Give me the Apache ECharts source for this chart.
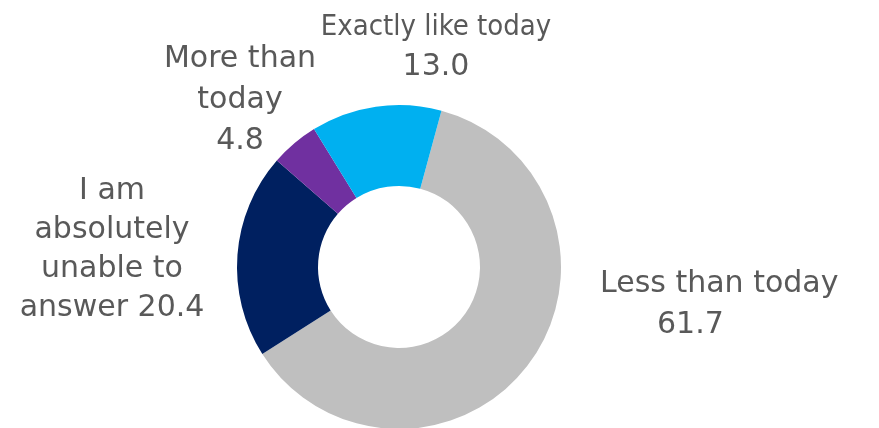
<!DOCTYPE html>
<html>
<head>
    <meta charset="utf-8">
    <title>Doughnut</title>
    <script src="https://cdn.jsdelivr.net/npm/echarts@6/dist/echarts.min.js"></script>
    <style>
        html, body { margin: 0; padding: 0; background: #fff; }
        #main { width: 879px; height: 428px; }
    </style>
</head>
<body>
    <div id="main"></div>
    <script type="text/javascript">
        // data
        var categories = ['Less than today', 'I am absolutely unable to answer', 'More than today', 'Exactly like today'];
        var values = [61.7, 20.4, 4.8, 13.0];
        var colors = ['#BFBFBF', '#002060', '#7030A0', '#00B0F0'];
        // how each label is broken into lines (value is appended)
        var labelText = ['Less than today', 'I am\nabsolutely\nunable to\nanswer', 'More than\ntoday', 'Exactly like today'];
        var labelSep = ['\n', ' ', '\n', '\n'];

        // label anchor points (text block centres)
        var labelPos = [[600, 305], [112, 250], [240, 100], [436, 47]];
        var labelAlign = ['left', 'center', 'center', 'center'];
        var labelLH = [41, 39, 41, 40];

        var myChart = echarts.init(document.getElementById('main'));

        var seriesData = [];
        for (var i = 0; i < categories.length; i++) {
            seriesData.push({
                name: categories[i],
                value: values[i],
                itemStyle: { color: colors[i] },
                label: { lineHeight: labelLH[i] }
            });
        }

        myChart.setOption({
            animation: false,
            series: [{
                type: 'pie',
                center: [399, 267],
                radius: [81, 162],
                startAngle: 74.8,
                clockwise: true,
                avoidLabelOverlap: false,
                label: {
                    show: true,
                    position: 'outside',
                    color: '#595959',
                    fontFamily: 'DejaVu Sans',
                    fontSize: 30,
                    formatter: function (p) {
                        var i = p.dataIndex;
                        var v = values[i].toFixed(1);
                        if (i === 0) {
                            return '{a|' + labelText[i] + '}\n{n|' + v + '}';
                        }
                        if (i === 3) {
                            return '{c|' + labelText[i] + '}\n' + v;
                        }
                        return labelText[i] + labelSep[i] + v;
                    },
                    rich: {
                        a: { fontSize: 30, color: '#595959', fontFamily: 'DejaVu Sans', lineHeight: 41 },
                        n: { fontSize: 30, color: '#595959', fontFamily: 'DejaVu Sans', lineHeight: 41, padding: [0, 0, 0, 57] },
                        c: { fontSize: 29, color: '#595959', fontFamily: 'DejaVu Sans Condensed, DejaVu Sans', lineHeight: 40 }
                    }
                },
                labelLine: { show: false },
                labelLayout: function (p) {
                    var i = p.dataIndex;
                    return {
                        x: labelPos[i][0],
                        y: labelPos[i][1],
                        align: labelAlign[i],
                        verticalAlign: 'middle'
                    };
                },
                emphasis: { disabled: true },
                data: seriesData
            }]
        });
    </script>
</body>
</html>
